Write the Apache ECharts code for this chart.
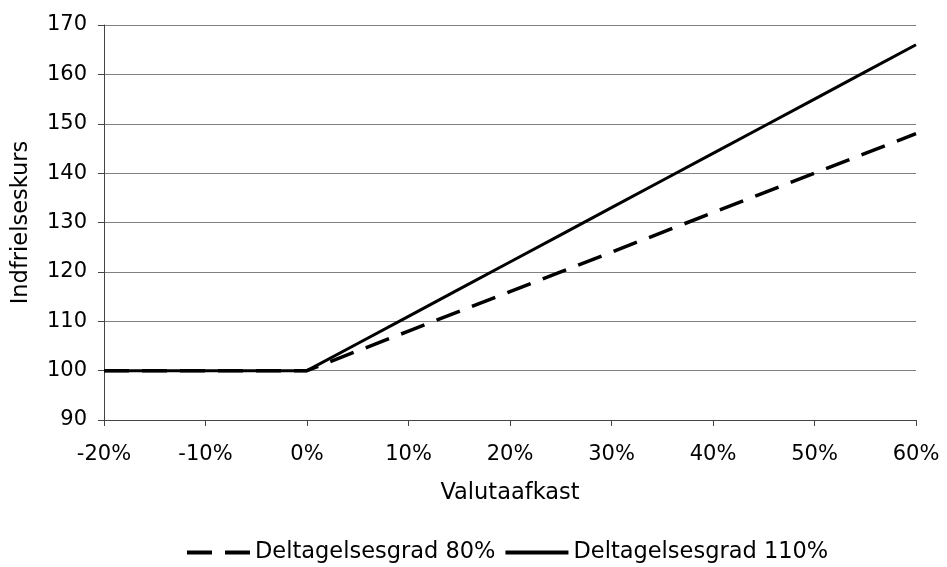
<!DOCTYPE html>
<html><head><meta charset="utf-8">
<script src="https://cdn.jsdelivr.net/npm/echarts@6/dist/echarts.min.js"></script>
<style>html,body{margin:0;padding:0;background:#fff}#c{width:947px;height:567px}</style>
</head><body><div id="c"></div>
<script>
const xValues = [-20,-15,-10,-5,0,5,10,15,20,25,30,35,40,45,50,55,60];
const series80 = [100,100,100,100,100,104,108,112,116,120,124,128,132,136,140,144,148];
const series110 = [100,100,100,100,100,105.5,111,116.5,122,127.5,133,138.5,144,149.5,155,160.5,166];
const seriesNames = ['Deltagelsesgrad 80%','Deltagelsesgrad 110%'];
const font = 'DejaVu Sans, Verdana, sans-serif';
const chart = echarts.init(document.getElementById('c'));
chart.setOption({
  animation:false,
  grid:{left:104,right:31,top:25,bottom:147,containLabel:false},
  legend:{top:536,left:182,itemWidth:63,itemHeight:4,itemGap:10,
    textStyle:{fontFamily:font,fontSize:22.5,color:'#000'},
    data:[
      {name:seriesNames[0],icon:'path://M0,0H25V4H0Z M38,0H63V4H38Z'},
      {name:seriesNames[1],icon:'path://M0,0H63V4H0Z'}
    ]},
  xAxis:{type:'value',min:-20,max:60,interval:10,
    name:'Valutaafkast',nameLocation:'middle',nameGap:62,
    nameTextStyle:{fontFamily:font,fontSize:22.5,color:'#000'},
    axisLine:{onZero:false,lineStyle:{color:'#444',width:1}},
    axisTick:{show:true,length:6,lineStyle:{color:'#444'}},
    axisLabel:{formatter:v=>v+'%',fontFamily:font,fontSize:21,color:'#000',margin:24},
    splitLine:{show:false}},
  yAxis:{type:'value',min:90,max:170,interval:10,
    name:'Indfrielseskurs',nameLocation:'middle',nameGap:71,
    nameTextStyle:{fontFamily:font,fontSize:22.5,color:'#000'},
    axisLine:{show:true,onZero:false,lineStyle:{color:'#444',width:1}},
    axisTick:{show:true,length:6,lineStyle:{color:'#444'}},
    axisLabel:{fontFamily:font,fontSize:21,color:'#000',margin:17},
    splitLine:{show:true,lineStyle:{color:'#808080',width:1}}},
  series:[
    {name:seriesNames[0],type:'line',showSymbol:false,symbol:'none',
     data:xValues.map((x,i)=>[x,series80[i]]),
     lineStyle:{color:'#000',width:3.5,type:[25,13]},itemStyle:{color:'#000'}},
    {name:seriesNames[1],type:'line',showSymbol:false,symbol:'none',
     data:xValues.map((x,i)=>[x,series110[i]]),
     lineStyle:{color:'#000',width:3,type:'solid'},itemStyle:{color:'#000'}}
  ]
});
</script></body></html>
